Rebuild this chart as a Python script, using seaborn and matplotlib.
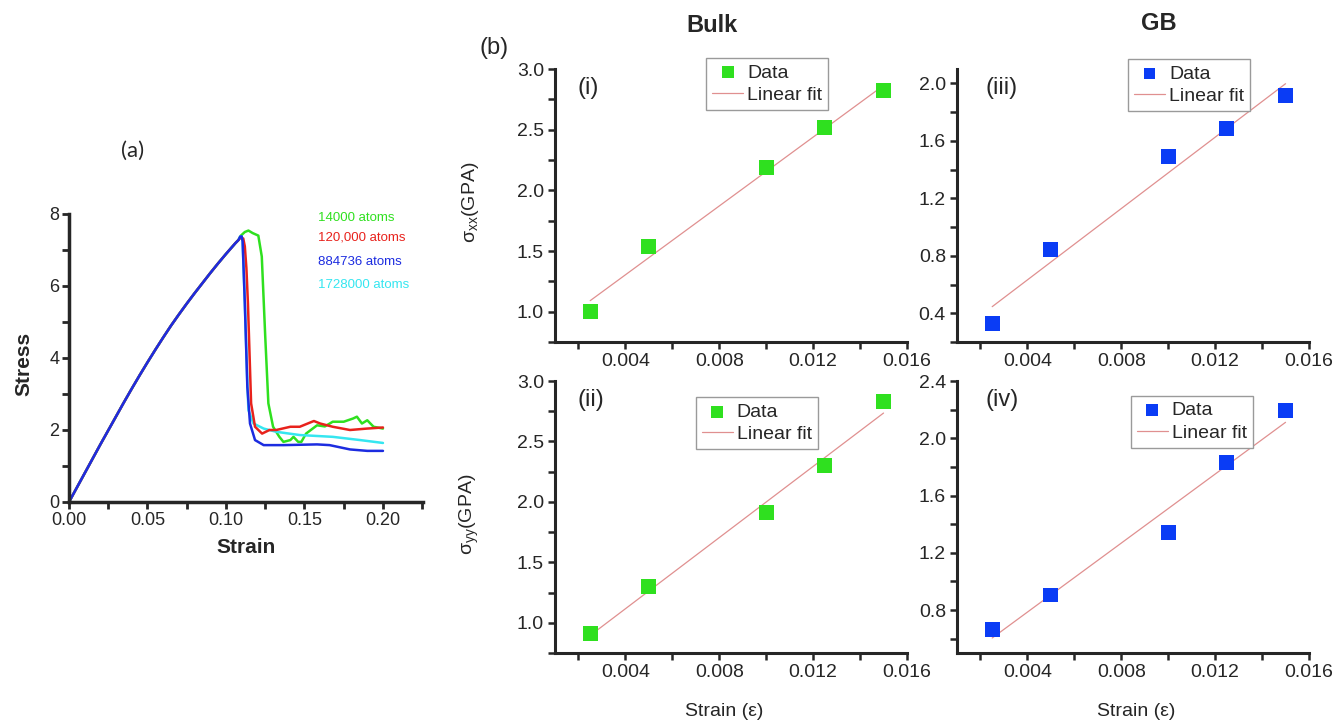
import numpy as np
import pandas as pd
import matplotlib
matplotlib.use("Agg")
import matplotlib.pyplot as plt
from matplotlib.ticker import MultipleLocator, FormatStrFormatter
import seaborn as sns

sns.set_style("ticks")
plt.rcParams['font.family'] = ['Liberation Sans', 'DejaVu Sans']
plt.rcParams['mathtext.default'] = 'regular'

# ---------------- Panel (a) data ----------------
rise_strain = [0.0, 0.005, 0.01, 0.015, 0.02, 0.025, 0.03, 0.035, 0.04, 0.045, 0.05,
               0.055, 0.06, 0.065, 0.07, 0.075, 0.08, 0.085, 0.09, 0.095, 0.10,
               0.103, 0.106, 0.108]
rise_stress = [0.0, 0.40, 0.80, 1.20, 1.60, 1.99, 2.38, 2.77, 3.15, 3.52, 3.88,
               4.23, 4.57, 4.90, 5.21, 5.51, 5.80, 6.08, 6.36, 6.63, 6.89,
               7.04, 7.19, 7.28]

green_strain = [0.1095, 0.112, 0.1143, 0.117, 0.1206, 0.1228, 0.125, 0.127, 0.130, 0.134,
                0.1366, 0.141, 0.143, 0.146, 0.148, 0.151, 0.158, 0.163, 0.168, 0.175,
                0.181, 0.1834, 0.1866, 0.190, 0.194, 0.200]
green_stress = [7.40, 7.50, 7.54, 7.47, 7.40, 6.82, 4.60, 2.74, 2.09, 1.81,
                1.67, 1.72, 1.81, 1.67, 1.67, 1.90, 2.13, 2.10, 2.23, 2.23,
                2.32, 2.37, 2.18, 2.27, 2.09, 2.04]

red_strain = [0.109, 0.111, 0.112, 0.113, 0.114, 0.116, 0.1185, 0.123, 0.1277, 0.132,
              0.141, 0.147, 0.156, 0.160, 0.168, 0.179, 0.190, 0.200]
red_stress = [7.33, 7.32, 7.10, 6.50, 5.50, 2.74, 2.09, 1.90, 2.00, 2.00,
              2.09, 2.09, 2.25, 2.18, 2.09, 2.00, 2.04, 2.07]

cyan_strain = [0.109, 0.110, 0.1106, 0.112, 0.1136, 0.1143, 0.1175, 0.124, 0.132, 0.147,
               0.168, 0.1855, 0.200]
cyan_stress = [7.37, 7.38, 7.24, 5.52, 3.30, 2.55, 2.18, 2.04, 1.95, 1.86,
               1.81, 1.72, 1.64]

blue_strain = [0.109, 0.110, 0.1106, 0.112, 0.1136, 0.1153, 0.1185, 0.124, 0.1366, 0.158,
               0.166, 0.179, 0.190, 0.200]
blue_stress = [7.37, 7.38, 7.24, 5.52, 3.20, 2.18, 1.72, 1.58, 1.58, 1.60,
               1.58, 1.46, 1.42, 1.42]

atom_labels = ["14000 atoms", "120,000 atoms", "884736 atoms", "1728000 atoms"]

# ---------------- Panel (b) data ----------------
strain_b = [0.0025, 0.005, 0.010, 0.0125, 0.015]
bulk_xx = [1.00, 1.54, 2.19, 2.515, 2.82]
bulk_yy = [0.912, 1.303, 1.909, 2.303, 2.832]
gb_xx = [0.33, 0.846, 1.488, 1.686, 1.914]
gb_yy = [0.667, 0.905, 1.344, 1.833, 2.192]

GREEN = "#2fe01f"
RED = "#e8221c"
BLUE = "#1c2ce0"
CYAN = "#35e6f0"
SQ_BLUE = "#0a3cf5"
FIT = "#e09090"

fig = plt.figure(figsize=(13.38, 7.21), dpi=100)

# ---------------- Panel (a) ----------------
axa = fig.add_axes([69/1338, 1-502/721, 354/1338, 288/721])
series = [("green", green_strain, green_stress),
          ("cyan", cyan_strain, cyan_stress),
          ("red", red_strain, red_stress),
          ("blue", blue_strain, blue_stress)]
rows = []
for name, xs, ys in series:
    for x, y in zip(rise_strain + xs, rise_stress + ys):
        rows.append((name, x, y))
df_a = pd.DataFrame(rows, columns=["series", "strain", "stress"])
sns.lineplot(data=df_a, x="strain", y="stress", hue="series",
             hue_order=["green", "cyan", "red", "blue"],
             palette={"green": GREEN, "cyan": CYAN, "red": RED, "blue": BLUE},
             sort=False, estimator=None, legend=False, lw=1.8, ax=axa)
axa.set_xlim(0, 0.2255)
axa.set_ylim(0, 8)
axa.xaxis.set_major_locator(MultipleLocator(0.05))
axa.xaxis.set_minor_locator(MultipleLocator(0.025))
axa.xaxis.set_major_formatter(FormatStrFormatter("%.2f"))
axa.yaxis.set_major_locator(MultipleLocator(2))
axa.yaxis.set_minor_locator(MultipleLocator(1))
sns.despine(ax=axa)
for s in ["left", "bottom"]:
    axa.spines[s].set_linewidth(2.5)
axa.tick_params(which="both", direction="out", width=2, length=5, labelsize=13, pad=2)
axa.set_xlabel("Strain", fontsize=15, fontweight="bold")
axa.set_ylabel("Stress", fontsize=15, fontweight="bold")
axa.xaxis.set_label_coords(0.5, -0.125)
axa.xaxis.label.set_va("top")
axa.yaxis.set_label_coords(-0.10, 0.48)
for lbl, col, yy in zip(atom_labels, [GREEN, RED, BLUE, CYAN], [0.986, 0.917, 0.833, 0.753]):
    axa.text(0.703, yy, lbl, color=col, fontsize=9.5, transform=axa.transAxes,
             ha="left", va="center")
fig.text(133/1338, 1-151/721, "(a)", fontsize=16, family=["Lato", "DejaVu Sans"],
         ha="center", va="center")

# ---------------- Panel (b) ----------------
W = 352/1338
pos = {
    "i": [555/1338, 1-342/721, W, 273/721],
    "ii": [555/1338, 1-653/721, W, 272/721],
    "iii": [957/1338, 1-342/721, W, 273/721],
    "iv": [957/1338, 1-653/721, W, 272/721],
}
specs = [
    ("i", bulk_xx, GREEN, (0.75, 3.0), 0.5, 0.25, (0.43, 1.04), (0.065, 0.93)),
    ("ii", bulk_yy, GREEN, (0.75, 3.0), 0.5, 0.25, (0.40, 0.94), (0.065, 0.93)),
    ("iii", gb_xx, SQ_BLUE, (0.2, 2.1), 0.4, 0.2, (0.486, 1.036), (0.08, 0.93)),
    ("iv", gb_yy, SQ_BLUE, (0.5, 2.4), 0.4, 0.2, (0.494, 0.945), (0.08, 0.93)),
]
ylabels = {"i": r"$\sigma_{xx}$(GPA)", "ii": r"$\sigma_{yy}$(GPA)"}

for key, yvals, col, ylim, maj, mnr, lpos, tpos in specs:
    ax = fig.add_axes(pos[key])
    sns.scatterplot(x=strain_b, y=yvals, marker="s", s=115, color=col,
                    edgecolor="none", label="Data", ax=ax, zorder=3)
    sns.regplot(x=strain_b, y=yvals, scatter=False, ci=None, truncate=True,
                line_kws=dict(color=FIT, lw=0.9), label="Linear fit", ax=ax)
    ax.set_xlim(0.001, 0.016)
    ax.set_ylim(*ylim)
    ax.xaxis.set_major_locator(MultipleLocator(0.004))
    ax.xaxis.set_minor_locator(MultipleLocator(0.002))
    ax.xaxis.set_major_formatter(FormatStrFormatter("%.3f"))
    ax.yaxis.set_major_locator(MultipleLocator(maj))
    ax.yaxis.set_minor_locator(MultipleLocator(mnr))
    ax.yaxis.set_major_formatter(FormatStrFormatter("%.1f"))
    sns.despine(ax=ax)
    for s in ["left", "bottom"]:
        ax.spines[s].set_linewidth(2.2)
    ax.tick_params(which="both", direction="out", width=1.8, length=5, labelsize=14, pad=3)
    handles, labels = ax.get_legend_handles_labels()
    order = [labels.index("Data"), labels.index("Linear fit")]
    leg = ax.legend([handles[i] for i in order], [labels[i] for i in order],
                    loc="upper left", bbox_to_anchor=lpos, fontsize=14,
                    frameon=True, fancybox=False, framealpha=1, edgecolor="#9a9a9a",
                    borderpad=0.3, handlelength=1.6, handletextpad=0.2,
                    labelspacing=0.25, markerscale=0.8, borderaxespad=0)
    leg.get_frame().set_linewidth(1.0)
    ax.text(tpos[0], tpos[1], f"({key})", fontsize=17, transform=ax.transAxes,
            ha="left", va="center")
    if key in ylabels:
        ax.set_ylabel(ylabels[key], fontsize=14)
        ax.yaxis.set_label_coords(-0.21, 0.51)
    else:
        ax.set_ylabel("")
    if key in ("ii", "iv"):
        ax.set_xlabel("Strain (ε)", fontsize=14)
        ax.xaxis.set_label_coords(0.48 if key == "ii" else 0.51, -0.185)
        ax.xaxis.label.set_va("top")
    else:
        ax.set_xlabel("")

fig.text(494/1338, 1-48/721, "(b)", fontsize=17, ha="center", va="center")
fig.text(712/1338, 1-26/721, "Bulk", fontsize=17, fontweight="bold", ha="center", va="center")
fig.text(1159/1338, 1-24/721, "GB", fontsize=17, fontweight="bold", ha="center", va="center")

fig.savefig("out.png", dpi=100, facecolor="white")
